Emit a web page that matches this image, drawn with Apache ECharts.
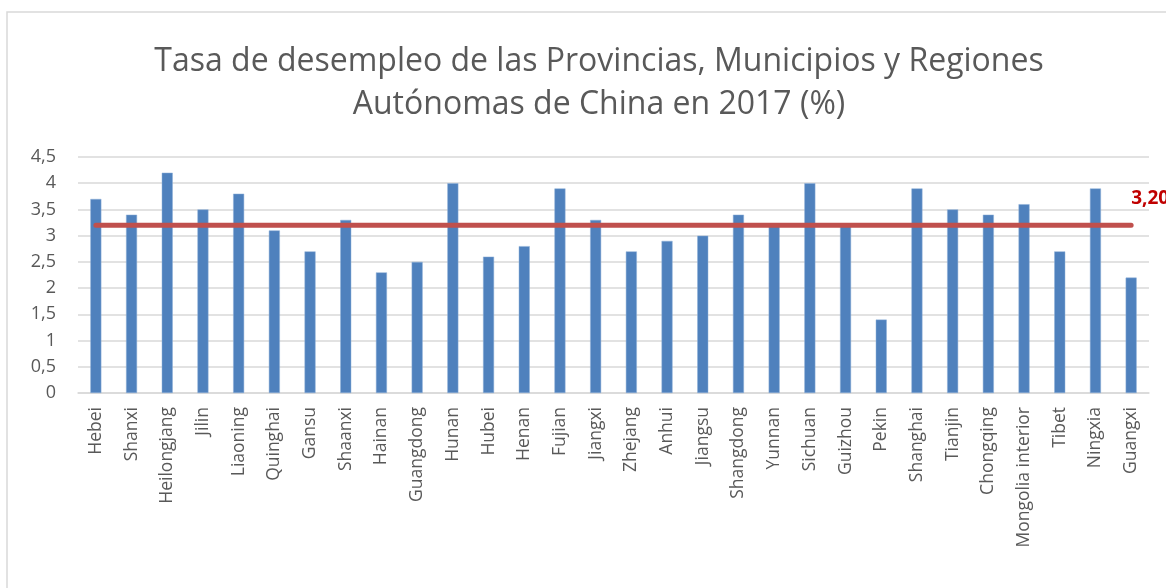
<!DOCTYPE html>
<html>
<head>
<meta charset="utf-8">
<script src="https://cdn.jsdelivr.net/npm/echarts@6/dist/echarts.min.js"></script>
<style>
  html, body { margin: 0; padding: 0; background: #fff; }
  #main { width: 1166px; height: 588px; }
</style>
</head>
<body>
<div id="main"></div>
<script>
// provincias / municipios / regiones
var provincias = ['Hebei', 'Shanxi', 'Heilongjang', 'Jilin', 'Liaoning', 'Quinghai', 'Gansu', 'Shaanxi',
  'Hainan', 'Guangdong', 'Hunan', 'Hubei', 'Henan', 'Fujian', 'Jiangxi', 'Zhejang', 'Anhui', 'Jiangsu',
  'Shangdong', 'Yunnan', 'Sichuan', 'Guizhou', 'Pekin', 'Shanghai', 'Tianjin', 'Chongqing',
  'Mongolia interior', 'Tibet', 'Ningxia', 'Guangxi'];

// tasa de desempleo (%)
var tasa = [3.7, 3.4, 4.2, 3.5, 3.8, 3.1, 2.7, 3.3, 2.3, 2.5, 4.0, 2.6, 2.8, 3.9, 3.3, 2.7, 2.9, 3.0,
  3.4, 3.2, 4.0, 3.2, 1.4, 3.9, 3.5, 3.4, 3.6, 2.7, 3.9, 2.2];

// media
var media = 3.2;
var mediaLinea = provincias.map(function () { return media; });

var gris = '#595959';
var chart = echarts.init(document.getElementById('main'));

chart.setOption({
  backgroundColor: '#fff',
  animation: false,
  textStyle: { fontFamily: 'Open Sans' },
  graphic: [{
    type: 'rect',
    shape: { x: 7, y: 12, width: 1200, height: 620 },
    style: { fill: 'none', stroke: '#d9d9d9', lineWidth: 1.5 },
    silent: true
  }],
  title: {
    text: 'Tasa de desempleo de las Provincias, Municipios y Regiones\nAutónomas de China en 2017 (%)',
    left: 594,
    textAlign: 'center',
    top: 35,
    textStyle: {
      fontFamily: 'Open Sans',
      fontSize: 32,
      fontWeight: 'normal',
      color: gris,
      lineHeight: 43
    }
  },
  grid: {
    left: 78,
    right: 17,
    top: 157,
    bottom: 195,
    containLabel: false
  },
  xAxis: {
    type: 'category',
    data: provincias,
    axisLine: { show: true, lineStyle: { color: '#d9d9d9', width: 1.5 } },
    axisTick: { show: false },
    axisLabel: {
      interval: 0,
      rotate: 90,
      margin: 14,
      fontSize: 17.5,
      color: gris
    }
  },
  yAxis: {
    type: 'value',
    min: 0,
    max: 4.5,
    interval: 0.5,
    axisLine: { show: false },
    axisTick: { show: false },
    axisLabel: {
      fontSize: 18,
      color: gris,
      margin: 22,
      formatter: function (v) { return String(v).replace('.', ','); }
    },
    splitLine: { lineStyle: { color: '#d9d9d9', width: 1.5 } }
  },
  series: [
    {
      name: 'Tasa',
      type: 'bar',
      data: tasa,
      barWidth: 11,
      itemStyle: { color: '#4F81BD', borderColor: '#8fb0d8', borderWidth: 0.5 },
      z: 2
    },
    {
      name: 'Media',
      type: 'line',
      data: mediaLinea,
      symbol: 'none',
      lineStyle: { color: '#C0504D', width: 5, cap: 'round' },
      z: 3,
      endLabel: {
        show: true,
        formatter: function () { return media.toFixed(2).replace('.', ','); },
        color: '#C00000',
        fontWeight: 'bold',
        fontSize: 19,
        offset: [-8, -27]
      }
    }
  ]
});
</script>
</body>
</html>
